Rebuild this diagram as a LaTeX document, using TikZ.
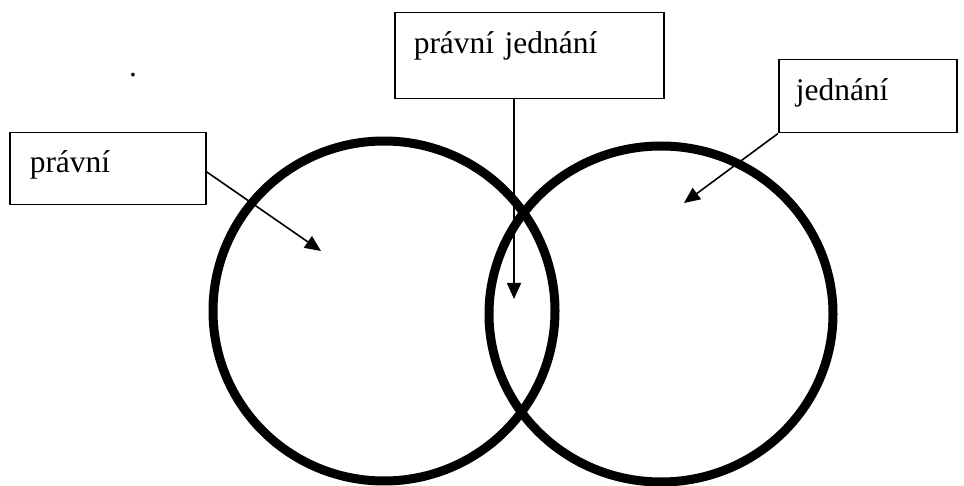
\documentclass[tikz,border=0pt]{standalone}
\usepackage{fontspec}
\setmainfont{Liberation Serif}
\usetikzlibrary{arrows.meta,shapes.geometric}
\begin{document}
\begin{tikzpicture}[x=1pt,y=-1pt,
  ring/.style={draw=black,line width=9pt,ellipse,inner sep=0pt},
  labelbox/.style={draw=black,line width=1.5pt,inner ysep=0pt,align=left,
    font=\fontsize{31.5}{36}\selectfont},
  pointer/.style={draw=black,line width=1.6pt,-{Triangle[length=16pt,width=14pt]}}]
\useasboundingbox (0,0) rectangle (964,486);
% circles
\node[ring,minimum width=342pt,minimum height=340pt] (cl) at (384,311) {};
\node[ring,minimum width=344pt,minimum height=336pt] (cr) at (661,314) {};
% boxes
\node[labelbox,anchor=north west,inner xsep=20pt,text width=156pt,
  text height=40pt,text depth=32pt] (pr) at (9,132) {právní};
\node[labelbox,anchor=north west,inner xsep=19pt,text width=231pt,
  text height=41pt,text depth=45pt] (pj) at (394,12) {právní jednání};
\node[labelbox,anchor=north west,inner xsep=17pt,text width=144pt,
  text height=41pt,text depth=32pt] (jd) at (778,59) {jednání};
% dot
\node[font=\fontsize{31.5}{36}\selectfont,inner sep=0pt,anchor=base] (dot) at (133,77) {.};
% arrow tips
\coordinate (tipL) at (321,251);
\coordinate (tipM) at (514,299);
\coordinate (tipR) at (684,203);
\draw[pointer] ([yshift=-3pt]pr.east) -- (tipL);
\draw[pointer] (tipM |- pj.south) -- (tipM);
\draw[pointer] (jd.south west) -- (tipR);
\end{tikzpicture}
\end{document}
